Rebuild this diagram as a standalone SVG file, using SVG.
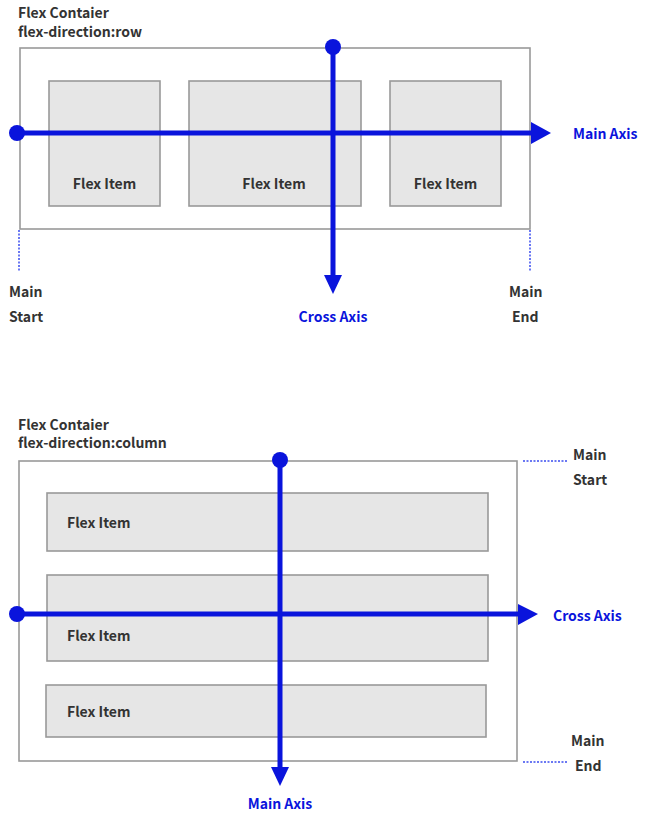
<svg xmlns="http://www.w3.org/2000/svg" width="649" height="821" viewBox="0 0 649 821">
<defs>
<style>
text{font-family:"Noto Sans CJK KR","Noto Sans","Liberation Sans",sans-serif;font-weight:700;font-size:14px;fill:#333}
.blue{fill:#0a14dc}
.box{fill:#fff;stroke:#999;stroke-width:1.6}
.item{fill:#e6e6e6;stroke:#999;stroke-width:1.6}
.axis{stroke:#0a14dc;stroke-width:5;fill:none}
.dot{fill:#0a14dc}
.guide{stroke:#3a4cf0;stroke-width:1.5;stroke-dasharray:2 1.5;fill:none}
.mid{text-anchor:middle}
</style>
</defs>
<rect width="649" height="821" fill="#fff"/>
<g id="row-title"><text x="18" y="18">Flex Contaier</text><text x="18" y="37">flex-direction:row</text></g>
<g id="row-container"><rect class="box" x="20" y="48" width="510" height="181"/></g>
<g id="row-item1"><rect class="item" x="49" y="81" width="111" height="125"/><text class="mid" x="104.5" y="189">Flex Item</text></g>
<g id="row-item2"><rect class="item" x="189" y="81" width="172" height="125"/><text class="mid" x="274" y="189">Flex Item</text></g>
<g id="row-item3"><rect class="item" x="390" y="81" width="111" height="125"/><text class="mid" x="445.5" y="189">Flex Item</text></g>
<g id="row-labels">
<text x="9" y="297">Main</text><text x="9" y="322">Start</text>
<text x="509" y="297">Main</text><text x="512" y="322">End</text>
<text class="blue mid" x="333" y="322">Cross Axis</text>
<text class="blue" x="573" y="139">Main Axis</text>
</g>
<g id="col-title"><text x="18" y="430">Flex Contaier</text><text x="18" y="448">flex-direction:column</text></g>
<g id="col-container"><rect class="box" x="19" y="461" width="498" height="300"/></g>
<g id="col-item1"><rect class="item" x="47" y="493" width="441" height="58"/><text x="67" y="528">Flex Item</text></g>
<g id="col-item2"><rect class="item" x="47" y="575" width="441" height="86"/><text x="67" y="641">Flex Item</text></g>
<g id="col-item3"><rect class="item" x="46" y="685" width="440" height="52"/><text x="67" y="717">Flex Item</text></g>
<g id="col-labels">
<text x="573" y="460">Main</text><text x="573" y="485">Start</text>
<text x="571" y="746">Main</text><text x="575" y="771">End</text>
<text class="blue" x="553" y="621">Cross Axis</text>
<text class="blue mid" x="280" y="809">Main Axis</text>
</g>
<g id="connectors">
<line class="guide" x1="19" y1="230" x2="19" y2="271"/>
<line class="guide" x1="530" y1="230" x2="530" y2="271"/>
<line class="guide" x1="523" y1="461" x2="567" y2="461"/>
<line class="guide" x1="523" y1="762" x2="567" y2="762"/>
<circle class="dot" cx="17" cy="133" r="8"/>
<line class="axis" x1="17" y1="133" x2="533" y2="133"/>
<polygon class="dot" points="531,122 551,133 531,144"/>
<circle class="dot" cx="333" cy="47" r="8"/>
<line class="axis" x1="333" y1="47" x2="333" y2="277"/>
<polygon class="dot" points="324,275 342,275 333,294"/>
<circle class="dot" cx="17" cy="614" r="8"/>
<line class="axis" x1="17" y1="614" x2="520" y2="614"/>
<polygon class="dot" points="518,604 538,614 518,625"/>
<circle class="dot" cx="280" cy="460" r="8"/>
<line class="axis" x1="280" y1="460" x2="280" y2="769"/>
<polygon class="dot" points="271,767 289,767 280,786"/>
</g>
</svg>
